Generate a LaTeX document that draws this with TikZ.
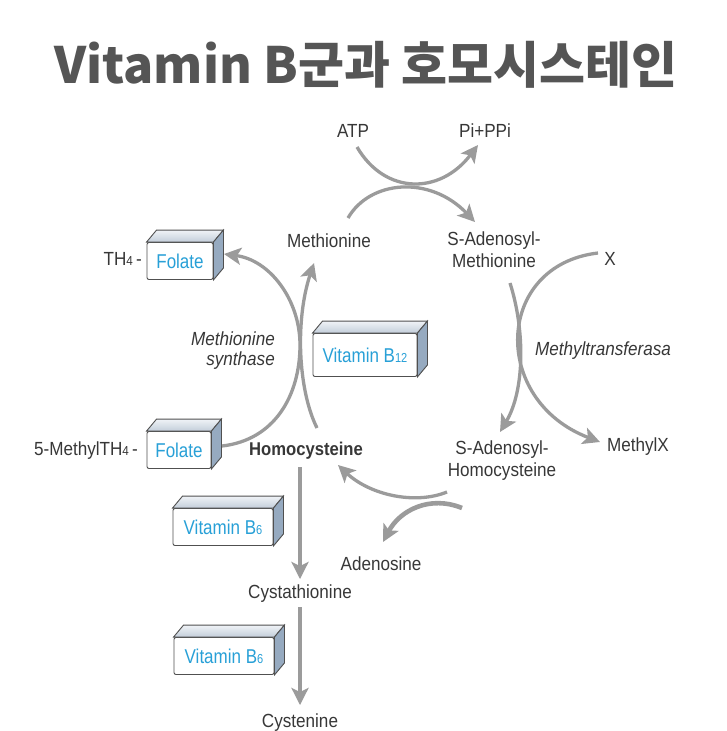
\documentclass[tikz,border=0pt]{standalone}
\usepackage{fontspec}
\usetikzlibrary{arrows.meta}
\setmainfont{Liberation Sans}
\newfontfamily\labfont{Liberation Sans}[FakeStretch=0.9]
\newfontfamily\boxfont{Liberation Sans}[FakeStretch=0.85]
\newfontfamily\titlefont{Noto Sans CJK KR}
\definecolor{labgray}{RGB}{55,55,55}
\definecolor{titlegray}{RGB}{85,85,85}
\definecolor{arrgray}{RGB}{155,155,155}
\definecolor{boxtext}{RGB}{40,160,215}
\definecolor{boxedge}{RGB}{80,80,80}
\definecolor{topc}{RGB}{240,243,247}
\definecolor{topd}{RGB}{195,206,218}
\definecolor{sidec}{RGB}{150,170,192}
\newcommand{\smallnum}[1]{{\fontsize{13}{13}\selectfont #1}}
\newcommand{\cubebox}[6]{%
  \node[cubefront, minimum width=#5, minimum height=#6] (#1) at (#2) {#3\smallnum{#4}};
  \path[draw=boxedge, line width=0.9pt, top color=topc, bottom color=topd]
    (#1.north west) -- ++(10,-12) -- ([shift={(10,-12)}]#1.north east) -- (#1.north east) -- cycle;
  \path[draw=boxedge, line width=0.9pt, fill=sidec]
    (#1.north east) -- ++(10,-12) -- ([shift={(10,-12)}]#1.south east) -- (#1.south east) -- cycle;
}
\begin{document}
\begin{tikzpicture}[x=1pt,y=-1pt,
  lab/.style={font=\labfont\fontsize{19}{22}\selectfont, text=labgray, inner sep=0pt},
  cubefront/.style={draw=boxedge, fill=white, rounded corners=2pt, line width=0.9pt,
    text=boxtext, font=\boxfont\fontsize{20}{22}\selectfont, inner sep=0pt},
  flow/.style={draw=arrgray, line width=3.3pt, -{Stealth[length=17pt,width=17pt,inset=4pt]}},
  flowthick/.style={flow, line width=4.6pt}]
\useasboundingbox (0,0) rectangle (727,731);

% title
\node[font=\titlefont\bfseries\fontsize{50}{54}\selectfont, text=titlegray, anchor=base, inner sep=0pt]
  (title) at (366,83) {Vitamin B군과 호모시스테인};

% labels
\node[lab, anchor=base] (atp) at (353,137) {ATP};
\node[lab, anchor=base] (pippi) at (485,137) {Pi+PPi};
\node[lab, anchor=base] (met) at (329,247) {Methionine};
\node[lab, anchor=base, align=center] (sam) at (494,267) {S-Adenosyl-\\Methionine};
\node[lab, anchor=base] (x) at (610,265) {X};
\node[lab, anchor=base, font=\labfont\itshape\fontsize{19}{22}\selectfont] (mtf) at (603,355) {Methyltransferasa};
\node[lab, anchor=base east, align=right, font=\labfont\itshape\fontsize{19}{20}\selectfont] (ms) at (275,365) {Methionine\\synthase};
\node[lab, anchor=base] (methx) at (638,451) {MethylX};
\node[lab, anchor=base, align=center] (sah) at (502,476) {S-Adenosyl-\\Homocysteine};
\node[lab, anchor=base, font=\labfont\bfseries\fontsize{18.5}{22}\selectfont] (hcy) at (306,455) {Homocysteine};
\node[lab, anchor=base] (ado) at (381,570) {Adenosine};
\node[lab, anchor=base] (cysta) at (300,598) {Cystathionine};
\node[lab, anchor=base] (cyst) at (300,727) {Cystenine};
\node[lab, anchor=base east] (th4) at (142,265) {TH\smallnum{4}\,-};
\node[lab, anchor=base east] (mth4) at (138,455) {5-MethylTH\smallnum{4}\,-};

% boxes
\cubebox{fol1}{180,261}{Folate}{}{66pt}{37pt}
\cubebox{fol2}{179,450}{Folate}{}{64pt}{37pt}
\cubebox{b12}{365,355}{Vitamin B}{12}{104pt}{43pt}
\cubebox{b6a}{223,527}{Vitamin B}{6}{100pt}{37pt}
\cubebox{b6b}{224,656}{Vitamin B}{6}{100pt}{37pt}

% curve end points
\coordinate (atpout) at (357,147);
\coordinate (piin) at (478,145);
\coordinate (metout) at (348,218);
\coordinate (samin) at (475,222);
\coordinate (mthout) at (222,446);
\coordinate (th4in) at (224,254);
\coordinate (hcyout) at (317,428);
\coordinate (metin) at (314,263);
\coordinate (samout) at (510,283);
\coordinate (sahin) at (500,432);
\coordinate (xout) at (598,253);
\coordinate (methxin) at (600,442);
\coordinate (sahout) at (447,492);
\coordinate (hcyin) at (338,465);
\coordinate (adoout) at (462,508);
\coordinate (adoin) at (383,542);

% connectors
\draw[flow] (atpout) .. controls (385,195) and (440,195) .. (piin);
\draw[flow] (metout) .. controls (370,180) and (430,175) .. (samin);
\draw[flow] (mthout) .. controls (275,440) and (300,395) .. (300,345) .. controls (300,300) and (270,260) .. (th4in);
\draw[flow] (hcyout) .. controls (298,390) and (295,320) .. (metin);
\draw[flow] (samout) .. controls (525,330) and (525,390) .. (sahin);
\draw[flow] (xout) .. controls (495,265) and (490,400) .. (methxin);
\draw[flow] (sahout) .. controls (415,505) and (370,495) .. (hcyin);
\draw[flowthick] (adoout) .. controls (430,495) and (400,510) .. (adoin);
\draw[flow, shorten <=8pt, shorten >=5pt] (cysta.north |- hcy.south) -- (cysta.north);
\draw[flow, shorten <=5pt, shorten >=8pt] (cysta.south) -- (cyst.north);
\end{tikzpicture}
\end{document}
